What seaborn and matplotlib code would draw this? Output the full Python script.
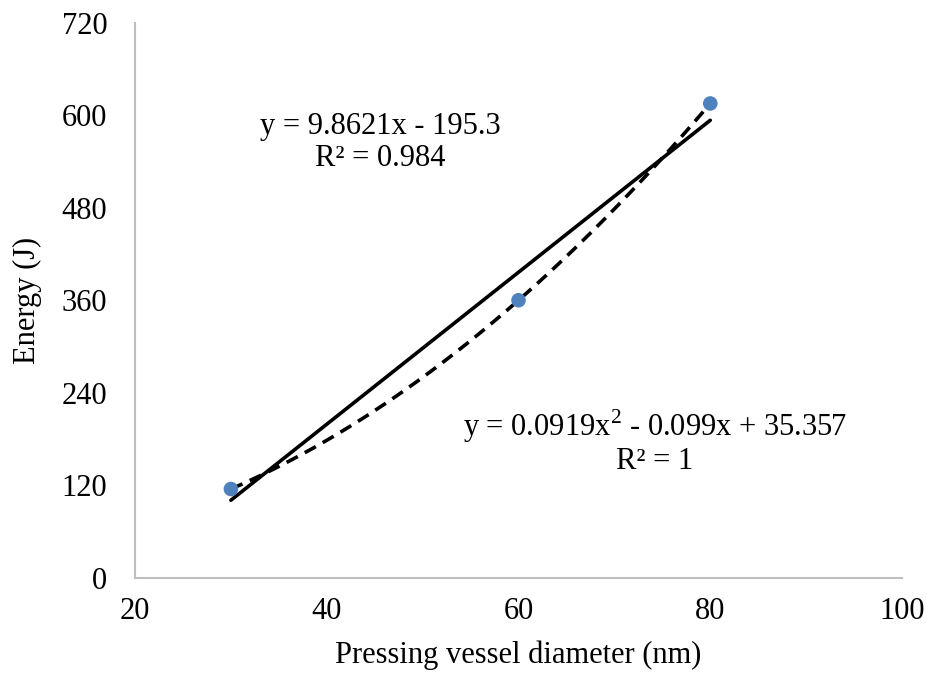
import numpy as np
import pandas as pd
import seaborn as sns
import matplotlib.pyplot as plt

# data
diameter = [30, 60, 80]
energy = [115.4, 360.3, 615.6]
x_ticks = [20, 40, 60, 80, 100]
y_ticks = [0, 120, 240, 360, 480, 600, 720]
linear_label = "y = 9.8621x - 195.3\nR² = 0.984"
poly_label = "y = 0.0919x$^{2}$ - 0.099x + 35.357\nR² = 1"

df = pd.DataFrame({"diameter": diameter, "energy": energy})

sns.set_theme(style="white")
plt.rcParams["font.family"] = ["Liberation Serif", "DejaVu Serif"]
plt.rcParams["mathtext.fontset"] = "custom"
plt.rcParams["mathtext.rm"] = "Liberation Serif"
for key in ["text.color", "axes.labelcolor", "xtick.color", "ytick.color"]:
    plt.rcParams[key] = "black"

fig = plt.figure(figsize=(9.28, 6.76), dpi=100)
ax = fig.add_axes([0.1455, 0.145, 0.8265, 0.821])

# trend lines fitted from the points
sns.regplot(data=df, x="diameter", y="energy", order=1, ci=None, scatter=False,
            truncate=True, ax=ax, line_kws=dict(color="black", lw=2.6))
sns.regplot(data=df, x="diameter", y="energy", order=2, ci=None, scatter=False,
            truncate=True, ax=ax,
            line_kws=dict(color="black", lw=2.6, linestyle=(0, (3.5, 2.2))))
sns.scatterplot(data=df, x="diameter", y="energy", ax=ax, s=110,
                color="#4f81bd", edgecolor="none", zorder=5)

ax.set_xlim(20, 100)
ax.set_ylim(0, 720)
ax.set_xticks(x_ticks)
ax.set_yticks(y_ticks)
ax.tick_params(axis="both", length=0, labelsize=22)
ax.tick_params(axis="y", pad=20)
ax.tick_params(axis="x", pad=14)

for side in ["top", "right"]:
    ax.spines[side].set_visible(False)
for side in ["left", "bottom"]:
    ax.spines[side].set_color("#bfbfbf")
    ax.spines[side].set_linewidth(1.5)

ax.set_xlabel("Pressing vessel diameter (nm)", fontsize=22, labelpad=10)
ax.set_ylabel("Energy (J)", fontsize=22, labelpad=14)

ax.text(45.6, 565, linear_label, fontsize=22, ha="center", va="center",
        multialignment="center", linespacing=1.1)
ax.text(74.2, 177, poly_label, fontsize=22, ha="center", va="center",
        multialignment="center", linespacing=1.1)

fig.savefig("out.png", dpi=100)
